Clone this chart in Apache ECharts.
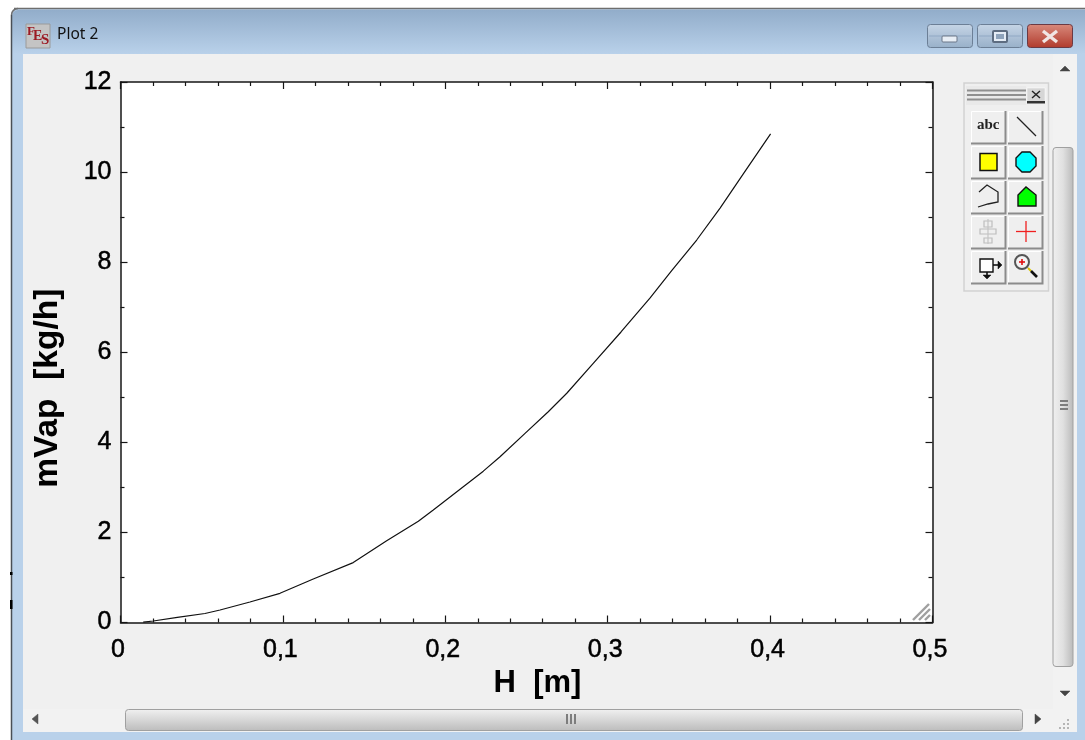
<!DOCTYPE html>
<html><head><meta charset="utf-8">
<style>html,body{margin:0;padding:0;background:#fff}#c{width:1085px;height:740px}</style>
<script src="https://cdn.jsdelivr.net/npm/echarts@6/dist/echarts.min.js"></script>
</head><body><div id="c"></div>
<script>
const hValues = [0.0140,0.0202,0.035,0.052,0.0613,0.0797,0.0982,0.1187,0.1433,0.1639,0.1834,0.1926,0.2234,0.2337,0.2491,0.2634,0.2748,0.2911,0.3082,0.326,0.3394,0.3548,0.3692,0.3835,0.4003];
const mVapValues = [0.007,0.033,0.115,0.2,0.278,0.455,0.648,0.966,1.33,1.816,2.25,2.498,3.36,3.68,4.2,4.68,5.09,5.755,6.45,7.2,7.81,8.492,9.2,9.96,10.85];
const xTickLabels = ['0','0,1','0,2','0,3','0,4','0,5'];
const yTickLabels = ['0','2','4','6','8','10','12'];
const xName = 'H  [m]';
const yName = 'mVap  [kg/h]';
const windowTitle = 'Plot 2';

const chart = echarts.init(document.getElementById('c'), null, {renderer:'canvas'});
const FONT = '"Liberation Sans", Arial, sans-serif';
const lineC = '#161616';

function rect(x,y,w,h,fill,extra){return Object.assign({type:'rect',shape:{x,y,width:w,height:h},style:{fill}},extra||{});}
function line(x1,y1,x2,y2,stroke,lw){return {type:'line',shape:{x1,y1,x2,y2},style:{stroke,lineWidth:lw||1}};}
function poly(points,fill,stroke,lw){return {type:'polygon',shape:{points},style:{fill,stroke,lineWidth:lw||1}};}
function pline(points,stroke,lw){return {type:'polyline',shape:{points},style:{fill:'none',stroke,lineWidth:lw||1}};}
function vgrad(a,b){return new echarts.graphic.LinearGradient(0,0,0,1,[{offset:0,color:a},{offset:1,color:b}]);}
function hgrad(a,b,c){return new echarts.graphic.LinearGradient(0,0,1,0,[{offset:0,color:a},{offset:.5,color:b},{offset:1,color:c}]);}

const chrome = [];
// window frame
chrome.push(rect(11,8,1074,732,'#b9d1ea',{shape:{x:11,y:8,width:1080,height:740,r:[7,7,0,0]}}));
chrome.push(rect(11.5,10,1080,44,vgrad('#92adca','#b9d1ea'),{shape:{x:12,y:10,width:1080,height:44,r:[6,6,0,0]}}));
chrome.push(line(14,8.5,1085,8.5,'#6e6e6e',1.5));
chrome.push(line(11.5,15,11.5,740,'#4a4f55',1.5));
chrome.push({type:'arc',shape:{cx:18,cy:15,r:6.5,startAngle:Math.PI,endAngle:Math.PI*1.5},style:{stroke:'#6e6e6e',fill:'none',lineWidth:1.5}});
chrome.push(rect(10,572,2.5,3,'#000'),rect(10,600,2.5,9,'#000'));
// client
chrome.push(rect(23,54,1054,678,'#f0f0f0'));
// app icon
chrome.push(rect(26,24,24,24,'#c2c2c2',{style:{fill:'#c4c4c4',stroke:'#9a9a9a',lineWidth:1}}));
const iconLetters=[['F',27,25,13],['E',33,29,14],['S',41,33,15]];
iconLetters.forEach(l=>chrome.push({type:'text',style:{text:l[0],x:l[1],y:l[2],font:'bold '+l[3]+'px "Liberation Serif"',fill:'#9c1a24'}}));
chrome.push({type:'text',style:{text:windowTitle,x:57,y:27,font:'15.5px "Noto Sans"',fill:'#111'}});
// window buttons
function winBtn(x,w,a,b){chrome.push({type:'rect',shape:{x:x+.5,y:24.5,width:w,height:23,r:3},style:{fill:vgrad(a,b),stroke:'#6c7f96',lineWidth:1}});chrome.push({type:'line',shape:{x1:x+2,y1:36,x2:x+w-1,y2:36},style:{stroke:'rgba(90,120,160,.35)',lineWidth:1}});}
winBtn(927,45,'#c6d5e6','#98b0c9');
winBtn(977,45,'#c6d5e6','#98b0c9');
chrome.push({type:'rect',shape:{x:1027.5,y:24.5,width:45,height:23,r:3},style:{fill:vgrad('#d98a7c','#b03a2c'),stroke:'#6b3a44',lineWidth:1}});
chrome.push({type:'rect',shape:{x:942,y:36,width:15,height:6,r:1},style:{fill:'#e8eef5',stroke:'#6a7688',lineWidth:1}});
chrome.push({type:'rect',shape:{x:993,y:31,width:14,height:11,r:1},style:{fill:'#e4ecf5',stroke:'#5d6c80',lineWidth:2}});
chrome.push(rect(996,34,8,5,'#8ea3bb'));
chrome.push(line(1043,31,1057,42,'#f1e6e4',3.4),line(1057,31,1043,42,'#f1e6e4',3.4));
// scrollbars
chrome.push(rect(1053,54,24,655,'#f2f2f2'));
chrome.push(rect(23,709,1054,23,'#f2f2f2'));
chrome.push({type:'rect',shape:{x:1053,y:147.5,width:20,height:519,r:3},style:{fill:hgrad('#f0f0f0','#e0e0e0','#b9b9b9'),stroke:'#a0a0a0',lineWidth:1}});
chrome.push({type:'rect',shape:{x:125.5,y:709.5,width:897,height:21,r:3},style:{fill:vgrad('#f1f1f1','#bcbcbc'),stroke:'#a0a0a0',lineWidth:1}});
chrome.push(poly([[1060,71],[1070,71],[1065,66]],'#444','#444',.5));
chrome.push(poly([[1060,691],[1070,691],[1065,696]],'#444','#444',.5));
chrome.push(poly([[38,714],[38,724],[32,719]],'#555','#555',.5));
chrome.push(poly([[1035,714],[1035,724],[1041,719]],'#444','#444',.5));
[[566,714],[570,714],[574,714]].forEach(p=>chrome.push(rect(p[0],p[1],2,10,'#7d7d7d')));
[[1060,400],[1060,404],[1060,408]].forEach(p=>chrome.push(rect(p[0],p[1],8,2,'#7d7d7d')));
[[1067,719],[1063,723],[1067,723],[1059,727],[1063,727],[1067,727]].forEach(p=>chrome.push(rect(p[0],p[1],2,2,'#b5b5b5')));
// toolbar
chrome.push(rect(964,83,84.5,208,'#efefef',{style:{fill:'#efefef',stroke:'#d2d2d2',lineWidth:1.5}}));
chrome.push(rect(966,86,60,19,'#e9e9e9'));
[90,94.5,99].forEach(y=>chrome.push(line(967,y+.5,1026,y+.5,'#8f8f8f',2)));
chrome.push(rect(1027,88,18,15,'#d6d6d6',{style:{fill:'#d6d6d6',stroke:'#fff',lineWidth:.5}}));
chrome.push(rect(1027,101,18,2.5,'#333'));
chrome.push(line(1032,91,1040,98,'#222',1.4),line(1040,91,1032,98,'#222',1.4));
const cols=[971,1008], rows=[111,146,181,216,251], bw=34, bh=32;
rows.forEach(y=>cols.forEach(x=>{
  chrome.push(rect(x,y,bw,bh,'#efefef'));
  chrome.push(pline([[x+.5,y+bh],[x+.5,y+.5],[x+bw,y+.5]],'#ffffff',1));
  chrome.push(pline([[x,y+bh+.5],[x+bw+.5,y+bh+.5],[x+bw+.5,y]],'#8c8c8c',2));
}));
chrome.push({type:'text',style:{text:'abc',x:977,y:118,font:'bold 15px "Liberation Serif"',fill:'#222'}});
chrome.push(line(1017,117,1036,136,'#222',1.2));
chrome.push(rect(980,153.5,17,17,'#ffff00',{style:{fill:'#ffff00',stroke:'#111',lineWidth:1.5}}));
chrome.push(poly([[1022,152],[1030,152],[1036,158],[1036,166],[1030,172],[1022,172],[1016,166],[1016,158]],'#00ffff','#111',1.4));
chrome.push(pline([[979,192],[987,185],[998,192],[998,202],[988,204],[978,207]],'#222',1.3));
chrome.push(poly([[1018,206],[1018,195],[1026,187],[1036,195],[1036,206]],'#00ff00','#111',1.4));
// disabled widget
chrome.push(rect(984,221,8,6,'none',{style:{fill:'none',stroke:'#bdbdbd',lineWidth:1.2}}));
chrome.push(rect(980,229,16,5,'none',{style:{fill:'none',stroke:'#bdbdbd',lineWidth:1.2}}));
chrome.push(rect(984,238,8,5,'none',{style:{fill:'none',stroke:'#bdbdbd',lineWidth:1.2}}));
chrome.push(line(988,219,988,244,'#c4c4c4',1.2));
chrome.push(line(1016,231.5,1036,231.5,'#f02020',1.3),line(1026,221,1026,242,'#f02020',1.3));
// export
chrome.push(rect(980,259,13,13,'none',{style:{fill:'#fff',stroke:'#111',lineWidth:1.4}}));
chrome.push(line(993,265,999,265,'#111',1.6),poly([[998,261],[1002,265],[998,269]],'#111','#111',.5));
chrome.push(line(987,272,987,276,'#111',1.6),poly([[983,275],[991,275],[987,279]],'#111','#111',.5));
// magnifier
chrome.push({type:'circle',shape:{cx:1022,cy:262,r:7},style:{fill:'#f2f2f2',stroke:'#555',lineWidth:2}});
chrome.push(line(1019,262,1025,262,'#e01010',1.6),line(1022,259,1022,265,'#e01010',1.6));
chrome.push(line(1028,268,1031,271,'#d8c400',2),line(1031,271,1037,277,'#111',2.6));
chrome.forEach(e=>{e.z=-10;e.silent=true;});

// resize hatch on plot
const hatch=[[913,620,929,604],[919,620,930,609],[925,620,930,615]].map(a=>Object.assign(line(a[0],a[1],a[2],a[3],'#a0a0a0',2.4),{z:10,silent:true}));

const axisCommon = {
  type:'value',
  axisLine:{show:true,onZero:false,lineStyle:{color:lineC,width:1.5}},
  axisTick:{show:true,inside:true,length:7,lineStyle:{color:lineC,width:1.2}},
  minorTick:{show:true,length:4,lineStyle:{color:lineC,width:1.2}},
  splitLine:{show:false}
};
const labelWeight = {textBorderColor:'#000',textBorderWidth:0.5};
const option = {
  animation:false,
  backgroundColor:'#ffffff',
  grid:{show:true,left:120.5,right:152.5,top:82,bottom:117.5,backgroundColor:'#fff',borderWidth:0,containLabel:false},
  graphic:{elements:chrome.concat(hatch)},
  xAxis:[
    Object.assign({},axisCommon,{position:'bottom',min:0,max:0.5,interval:0.1,
      minorTick:Object.assign({},axisCommon.minorTick,{splitNumber:5}),
      axisLabel:Object.assign({margin:15,color:'#000',fontSize:25,fontFamily:FONT,padding:[0,5,0,0],hideOverlap:false,
        formatter:(v)=>xTickLabels[Math.round(v*10)]},labelWeight),
      name:xName,nameLocation:'middle',nameGap:35,
      nameTextStyle:{color:'#000',fontSize:31,fontWeight:'bold',fontFamily:FONT,padding:[0,0,0,22]}}),
    Object.assign({},axisCommon,{position:'top',min:0,max:0.5,interval:0.1,
      minorTick:Object.assign({},axisCommon.minorTick,{splitNumber:5}),axisLabel:{show:false}})
  ],
  yAxis:[
    Object.assign({},axisCommon,{position:'left',min:0,max:12,interval:2,
      minorTick:Object.assign({},axisCommon.minorTick,{splitNumber:2}),
      axisLabel:Object.assign({margin:9,color:'#000',fontSize:25,fontFamily:FONT,padding:[2,0,0,0],
        formatter:(v)=>yTickLabels[Math.round(v/2)]},labelWeight),
      name:yName,nameLocation:'middle',nameGap:56,
      nameTextStyle:{color:'#000',fontSize:33.5,fontWeight:'bold',fontFamily:FONT,padding:[0,72,0,0]}}),
    Object.assign({},axisCommon,{position:'right',min:0,max:12,interval:2,
      minorTick:Object.assign({},axisCommon.minorTick,{splitNumber:2}),axisLabel:{show:false}})
  ],
  series:[{type:'line',xAxisIndex:0,yAxisIndex:0,showSymbol:false,smooth:false,clip:true,
    lineStyle:{color:'#111',width:1.2},
    data:hValues.map((h,i)=>[h,mVapValues[i]])}]
};
chart.setOption(option);
</script></body></html>
